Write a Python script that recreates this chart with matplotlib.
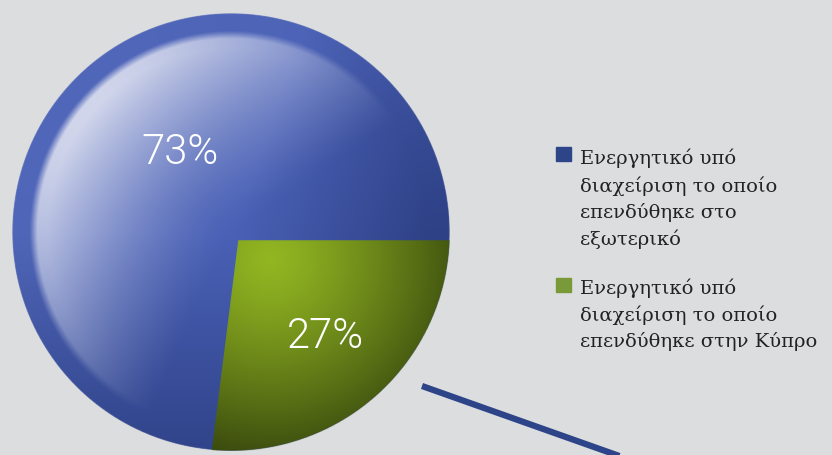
import numpy as np
import matplotlib
matplotlib.use("Agg")
import matplotlib.pyplot as plt
from matplotlib.colors import to_rgb
from matplotlib.patches import Rectangle, Circle
from matplotlib.lines import Line2D

# ---- data ----
shares = [73, 27]
pct_labels = ["73%", "27%"]
legend_labels = [
    "Ενεργητικό υπό\nδιαχείριση το οποίο\nεπενδύθηκε στο\nεξωτερικό",
    "Ενεργητικό υπό\nδιαχείριση το οποίο\nεπενδύθηκε στην Κύπρο",
]
slice_colors = ["#3f57a8", "#7d9a2a"]
legend_colors = ["#2e4488", "#7a9a3a"]

BG = "#dcdddf"
W, H = 832, 456
fig = plt.figure(figsize=(W / 100, H / 100), dpi=100, facecolor=BG)
ax = fig.add_axes([0, 0, 1, 1])

cx, cy, R = 231, H - 233, 219
wedges, _ = ax.pie(shares, colors=slice_colors, startangle=0, counterclock=True,
                   center=(cx, cy), radius=R, explode=[0, 11], frame=True,
                   wedgeprops=dict(linewidth=0))
ax.set_xlim(0, W)
ax.set_ylim(0, H)
ax.set_aspect("equal")
ax.axis("off")
ax.set_facecolor(BG)
# the shading images below carry the colour; wedges serve as their outlines
for w in wedges:
    w.set_alpha(0)

disc = Circle((cx, cy), R, transform=ax.transData)

# shading images
n = 600
xs = np.linspace(cx - R - 5, cx + R + 5, n)
ys = np.linspace(cy - R - 5, cy + R + 5, n)
X, Y = np.meshgrid(xs, ys)
U = (X - cx) / R
V = (Y - cy) / R
Rr = np.sqrt(U ** 2 + V ** 2)
TH = np.degrees(np.arctan2(V, U))
alpha = np.clip((R - Rr * R) + 0.5, 0, 1)


def col(c):
    return np.array(to_rgb(c))[None, None, :]


def mix(a, b, t):
    return a * (1 - t[..., None]) + b * t[..., None]


def adiff(a, b):
    return (a - b + 180) % 360 - 180


# blue: bevelled sphere look
dirw = np.clip(np.cos(np.radians(adiff(TH, 140) * 0.85)), 0, 1) ** 1.2
fr = np.where(Rr < 0.84, np.clip(Rr / 0.84, 0, 1) ** 1.4, 1.0)
rim = np.clip((Rr - 0.885) / 0.035, 0, 1)
hl = dirw * fr * 0.95 * (1 - 0.95 * rim)
dk = np.clip(np.cos(np.radians(adiff(TH, -20))), 0, 1) * np.clip(Rr / 0.9, 0, 1) * 0.85
dk = np.maximum(dk, np.clip(np.cos(np.radians(adiff(TH, -90))), 0, 1) * np.clip(Rr, 0, 1) * 0.75)
img_b = mix(col("#4a61b6"), col("#283a7c"), dk)
img_b = mix(img_b, col("#d8dcee"), hl)
img_b = np.dstack([img_b, alpha])
im1 = ax.imshow(img_b, extent=(xs[0], xs[-1], ys[0], ys[-1]), origin="lower",
                interpolation="bilinear", zorder=2)
im1.set_clip_path(disc)

# green shading
dg = np.sqrt((U - 0.18) ** 2 + (V + 0.12) ** 2)
tg = np.clip(dg / 0.92, 0, 1) ** 1.25
img_g = mix(col("#92b622"), col("#3a4a0e"), tg)
img_g = np.dstack([img_g, alpha])
im2 = ax.imshow(img_g, extent=(xs[0], xs[-1], ys[0], ys[-1]), origin="lower",
                interpolation="bilinear", zorder=3)
im2.set_clip_path(wedges[1])

# percentage labels
pct_pos = [(180, H - 153), (325, H - 336)]
for (px, py), lab in zip(pct_pos, pct_labels):
    ax.text(px, py, lab, color="white", fontsize=30, fontfamily="Roboto",
            fontweight=300, ha="center", va="center", zorder=5)

# decorative line
ax.add_line(Line2D([422, 625], [H - 387, H - 459], color="#2e4488", lw=4.5,
                   solid_capstyle="butt", zorder=3, clip_on=False))

# legend
leg_y = [155, 286]
txt_off = [6, 8]
for y, off, lab, col_ in zip(leg_y, txt_off, legend_labels, legend_colors):
    ax.add_patch(Rectangle((556, H - y - 7), 15, 14, color=col_, zorder=4))
    ax.text(580, H - (y - off), lab, fontsize=14, fontfamily="DejaVu Serif",
            color="#222222", ha="left", va="top", linespacing=1.48, zorder=4)

fig.savefig("out.png", dpi=100, facecolor=BG)
